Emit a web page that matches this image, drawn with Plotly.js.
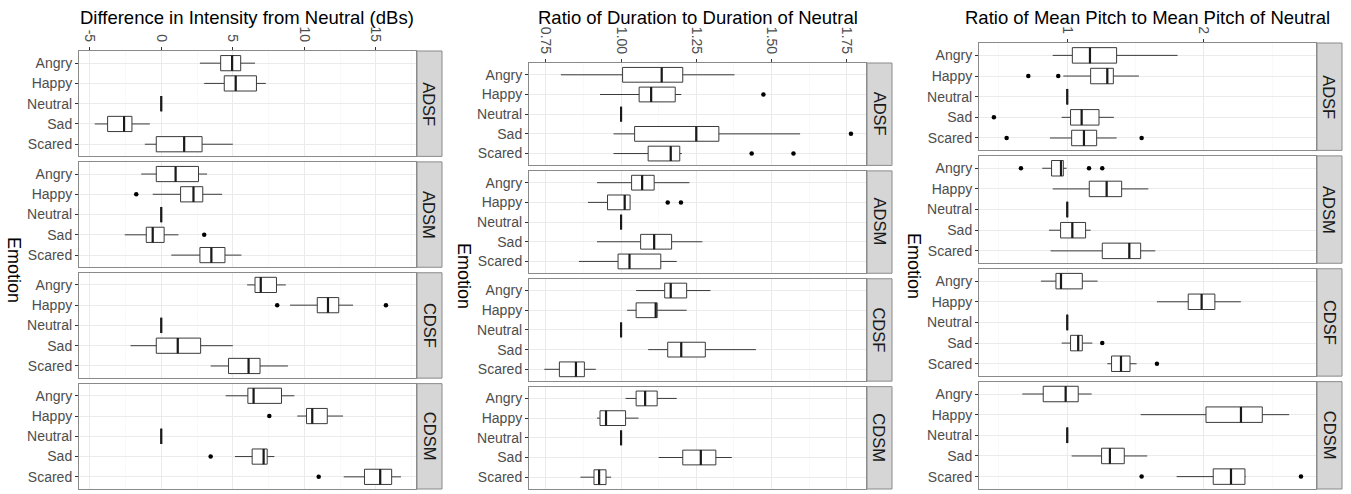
<!DOCTYPE html>
<html><head><meta charset="utf-8">
<script src="https://cdn.plot.ly/plotly-3.0.1.min.js"></script>
<style>body{margin:0;background:#fff}#chart{width:1351px;height:494px}</style>
</head><body><div id="chart"></div>
<script>
// ---------- DATA ----------
const emotions = ['Angry','Happy','Neutral','Sad','Scared'];
const speakers = ['ADSF','ADSM','CDSF','CDSM'];

// Difference in Intensity from Neutral (dBs): rows = speakers, cols = emotions
const intensityLow = [[2.7,3.0,0,-4.65,-1.15],[-1.4,-0.6,0,-2.55,0.7],[6.0,9.0,0,-2.15,3.45],[4.5,9.5,0,5.15,12.75]];
const intensityQ1  = [[4.15,4.4,0,-3.75,-0.35],[-0.35,1.35,0,-1.05,2.7],[6.55,10.9,0,-0.35,4.7],[6.05,10.15,0,6.35,14.2]];
const intensityMed = [[4.95,5.2,0,-2.6,1.6],[1.0,2.25,0,-0.6,3.5],[6.95,11.65,0,1.15,6.1],[6.45,10.55,0,7.15,15.3]];
const intensityQ3  = [[5.55,6.65,0,-2.05,2.85],[2.6,2.9,0,0.2,4.45],[8.05,12.4,0,2.75,6.9],[8.4,11.6,0,7.4,16.1]];
const intensityHigh= [[6.55,7.3,0,-0.8,5.0],[3.2,4.25,0,1.2,5.6],[8.7,13.4,0,5.0,8.85],[9.3,12.7,0,7.9,16.75]];
const intensityOutSpeaker = ['ADSM','ADSM','CDSF','CDSF','CDSM','CDSM','CDSM'];
const intensityOutEmotion = ['Happy','Sad','Happy','Happy','Happy','Sad','Scared'];
const intensityOutValue   = [-1.75,3.0,8.1,15.7,7.55,3.45,11.0];

// Ratio of Duration to Duration of Neutral
const durationLow = [[0.80,0.93,1,0.975,0.975],[0.92,0.89,1,0.92,0.86],[1.05,1.02,1,1.09,0.745],[1.015,0.92,1,1.125,0.865]];
const durationQ1  = [[1.005,1.06,1,1.045,1.09],[1.035,0.955,1,1.065,0.99],[1.145,1.05,1,1.155,0.795],[1.05,0.93,1,1.205,0.91]];
const durationMed = [[1.135,1.10,1,1.25,1.165],[1.07,1.012,1,1.11,1.028],[1.165,1.115,1,1.2,0.85],[1.08,0.95,1,1.265,0.927]];
const durationQ3  = [[1.205,1.18,1,1.325,1.195],[1.11,1.03,1,1.168,1.132],[1.218,1.12,1,1.28,0.878],[1.12,1.015,1,1.315,0.95]];
const durationHigh= [[1.377,1.2,1,1.595,1.202],[1.227,1.03,1,1.27,1.185],[1.297,1.218,1,1.448,0.916],[1.185,1.058,1,1.368,0.967]];
const durationOutSpeaker = ['ADSF','ADSF','ADSF','ADSF','ADSM','ADSM'];
const durationOutEmotion = ['Happy','Sad','Scared','Scared','Happy','Happy'];
const durationOutValue   = [1.473,1.764,1.434,1.573,1.155,1.199];

// Ratio of Mean Pitch to Mean Pitch of Neutral
const pitchLow = [[0.893,0.971,1,0.959,0.873],[0.817,0.893,1,0.866,0.878],[0.807,1.656,1,0.959,1.293],[0.671,1.537,1,1.032,1.8]];
const pitchQ1  = [[1.037,1.171,1,1.024,1.032],[0.885,1.161,1,0.951,1.256],[0.917,1.885,1,1.024,1.324],[0.824,2.015,1,1.251,2.068]];
const pitchMed = [[1.166,1.293,1,1.105,1.122],[0.954,1.288,1,1.037,1.454],[0.954,1.983,1,1.08,1.393],[0.988,2.271,1,1.312,2.198]];
const pitchQ3  = [[1.361,1.337,1,1.232,1.215],[0.971,1.398,1,1.134,1.537],[1.11,2.08,1,1.11,1.459],[1.08,2.427,1,1.417,2.3]];
const pitchHigh= [[1.807,1.524,1,1.341,1.361],[0.995,1.593,1,1.171,1.644],[1.222,2.27,1,1.183,1.507],[1.178,2.624,1,1.585,2.305]];
const pitchOutSpeaker = ['ADSF','ADSF','ADSF','ADSF','ADSF','ADSM','ADSM','ADSM','CDSF','CDSF','CDSM','CDSM'];
const pitchOutEmotion = ['Happy','Happy','Sad','Scared','Scared','Angry','Angry','Angry','Sad','Scared','Scared','Scared'];
const pitchOutValue   = [0.715,0.934,0.463,0.556,1.544,0.661,1.159,1.256,1.256,1.656,1.544,2.71];

const titles = ['Difference in Intensity from Neutral (dBs)','Ratio of Duration to Duration of Neutral','Ratio of Mean Pitch to Mean Pitch of Neutral'];
const tickVals1 = [-5,0,5,10,15], tickText1 = ['-5','0','5','10','15'];
const tickVals2 = [0.75,1,1.25,1.5,1.75], tickText2 = ['0.75','1.00','1.25','1.50','1.75'];
const tickVals3 = [1,2], tickText3 = ['1','2'];

// ---------- LAYOUT / DRAW ----------
const W = 1351, H = 494;
const panels = [
  {x0:79, x1:416, top:51, range:[-5.75,17.8], tv:tickVals1, tt:tickText1, minor:[-2.5,2.5,7.5,12.5,17.5],
   lo:intensityLow,q1:intensityQ1,med:intensityMed,q3:intensityQ3,hi:intensityHigh,
   os:intensityOutSpeaker,oe:intensityOutEmotion,ov:intensityOutValue},
  {x0:529, x1:866, top:63, range:[0.694,1.814], tv:tickVals2, tt:tickText2, minor:[0.625,0.875,1.125,1.375,1.625],
   lo:durationLow,q1:durationQ1,med:durationMed,q3:durationQ3,hi:durationHigh,
   os:durationOutSpeaker,oe:durationOutEmotion,ov:durationOutValue},
  {x0:979, x1:1316, top:43, range:[0.354,2.82], tv:tickVals3, tt:tickText3, minor:[0.5,1.5,2.5],
   lo:pitchLow,q1:pitchQ1,med:pitchMed,q3:pitchQ3,hi:pitchHigh,
   os:pitchOutSpeaker,oe:pitchOutEmotion,ov:pitchOutValue}
];
const bottom = 489, gap = 5.5;
const FONT = 'Liberation Sans, Arial, Helvetica, sans-serif';
const traces = [];
const layout = {
  width: W, height: H, margin:{l:0,r:0,t:0,b:0},
  paper_bgcolor:'#ffffff', plot_bgcolor:'#ffffff',
  font:{family:FONT, color:'#4d4d4d'},
  showlegend:false, boxmode:'overlay',
  shapes:[], annotations:[]
};

panels.forEach((P, p) => {
  const h = (bottom - P.top - 3*gap)/4;
  speakers.forEach((spk, f) => {
    const k = p*4 + f + 1;
    const sx = k > 1 ? String(k) : '';
    const xa = 'x' + sx, ya = 'y' + sx;
    const yTop = P.top + f*(h+gap), yBot = yTop + h;
    layout['xaxis' + sx] = {
      domain:[P.x0/W, P.x1/W], anchor: ya, side:'top', range:P.range,
      tickmode:'array', tickvals:P.tv, ticktext:P.tt, tickangle:90,
      ticks: f===0 ? 'outside' : '', ticklen:3, tickcolor:'#333333', tickwidth:1,
      showticklabels: f===0, tickfont:{size:14, color:'#4d4d4d', family:FONT},
      showgrid:true, gridcolor:'#ebebeb', gridwidth:1,
      minor:{tickmode:'array', tickvals:P.minor, showgrid:true, gridcolor:'#f5f5f5', gridwidth:0.6, ticks:''},
      showline:true, mirror:true, linecolor:'#8a8a8a', linewidth:1, zeroline:false, fixedrange:true
    };
    layout['yaxis' + sx] = {
      domain:[1 - yBot/H, 1 - yTop/H], anchor: xa, type:'category',
      categoryorder:'array', categoryarray:emotions, range:[4.6,-0.6],
      ticks:'outside', ticklen:3, tickcolor:'#333333', tickwidth:1,
      tickfont:{size:14, color:'#4d4d4d', family:FONT},
      showgrid:true, gridcolor:'#ebebeb', gridwidth:1,
      showline:true, mirror:true, linecolor:'#8a8a8a', linewidth:1, zeroline:false, fixedrange:true
    };
    // main boxes
    traces.push({
      type:'box', orientation:'h', xaxis:xa, yaxis:ya, y:emotions,
      q1:P.q1[f], median:P.med[f], q3:P.q3[f], lowerfence:P.lo[f], upperfence:P.hi[f],
      width:0.75, whiskerwidth:0, fillcolor:'#ffffff', line:{color:'#3a3a3a', width:1},
      boxpoints:false, hoverinfo:'skip', showlegend:false
    });
    // thick median
    traces.push({
      type:'box', orientation:'h', xaxis:xa, yaxis:ya, y:emotions,
      q1:P.med[f], median:P.med[f], q3:P.med[f], lowerfence:P.med[f], upperfence:P.med[f],
      width:0.75, whiskerwidth:0, fillcolor:'rgba(0,0,0,0)', line:{color:'#1a1a1a', width:2.2},
      boxpoints:false, hoverinfo:'skip', showlegend:false
    });
    // outliers
    const ox = [], oy = [];
    P.os.forEach((s, i) => { if (s === spk) { ox.push(P.ov[i]); oy.push(P.oe[i]); } });
    traces.push({
      type:'scatter', mode:'markers', xaxis:xa, yaxis:ya, x:ox, y:oy,
      marker:{color:'#000000', size:4.5}, hoverinfo:'skip', showlegend:false
    });
    // strip
    layout.shapes.push({type:'rect', xref:'paper', yref:'paper',
      x0:(P.x1+1)/W, x1:(P.x1+26)/W, y0:1-yBot/H, y1:1-yTop/H,
      fillcolor:'#d6d6d6', line:{color:'#8a8a8a', width:1}, layer:'above'});
    layout.annotations.push({xref:'paper', yref:'paper', x:(P.x1+13.5)/W, y:1-(yTop+yBot)/2/H,
      text:spk, showarrow:false, textangle:90, font:{size:16.5, color:'#1a1a1a', family:FONT},
      xanchor:'center', yanchor:'middle'});
  });
  // panel title
  layout.annotations.push({xref:'paper', yref:'paper', x:(P.x0+P.x1)/2/W, y:1-17/H,
    text:titles[p], showarrow:false, font:{size:18.5, color:'#000000', family:FONT},
    xanchor:'center', yanchor:'middle'});
  // y axis title
  layout.annotations.push({xref:'paper', yref:'paper', x:(p*450+14)/W, y:1-(P.top+bottom)/2/H,
    text:'Emotion', showarrow:false, textangle:90, font:{size:18, color:'#000000', family:FONT},
    xanchor:'center', yanchor:'middle'});
});

Plotly.newPlot('chart', traces, layout, {staticPlot:true, displayModeBar:false});
</script>
</body></html>
